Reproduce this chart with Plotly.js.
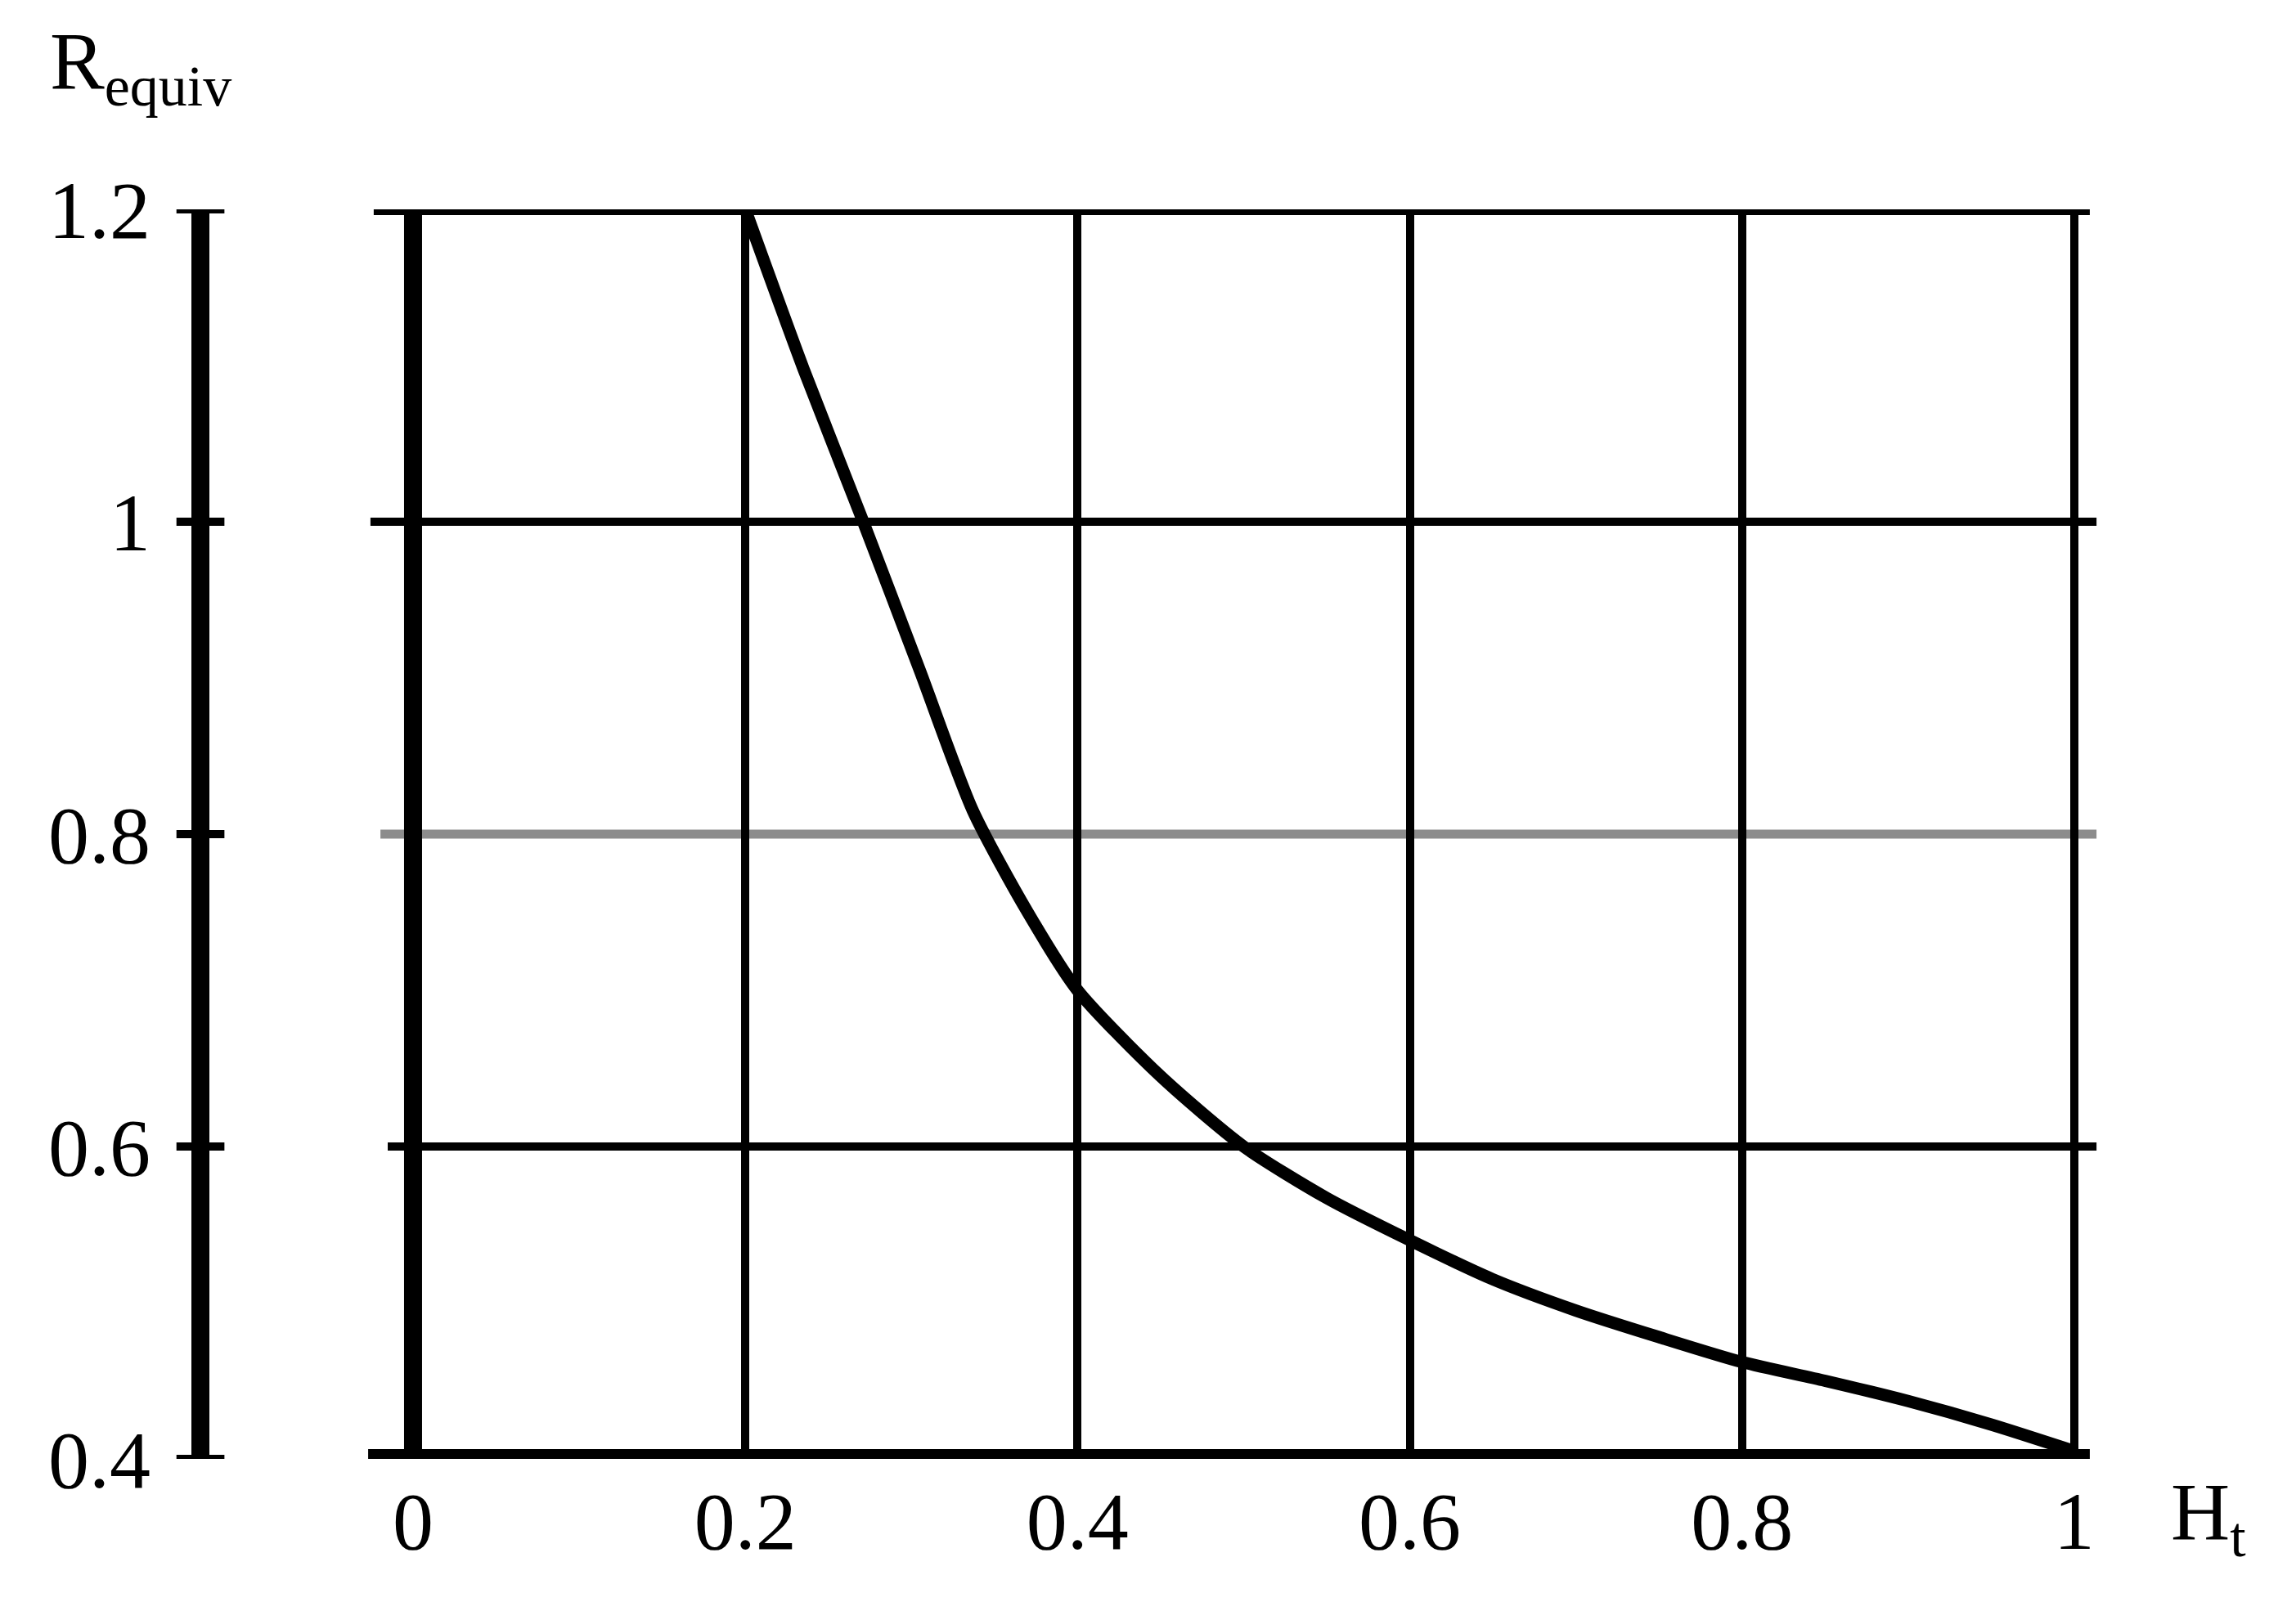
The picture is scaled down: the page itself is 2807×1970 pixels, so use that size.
<!DOCTYPE html>
<html>
<head>
<meta charset="utf-8">
<script src="https://cdn.plot.ly/plotly-3.0.1.min.js"></script>
<style>
  html, body { margin: 0; padding: 0; background: white; }
  #chart { width: 2807px; height: 1970px; }
</style>
</head>
<body>
<div id="chart"></div>
<script>
// values
const H = [0.2, 0.235, 0.271, 0.305, 0.337, 0.37, 0.4, 0.45, 0.5, 0.55, 0.6, 0.65, 0.7, 0.75, 0.8, 0.85, 0.9, 0.95, 1.0];
const R = [1.2, 1.098, 1.0, 0.905, 0.815, 0.75, 0.7, 0.645, 0.6, 0.567, 0.54, 0.515, 0.495, 0.478, 0.462, 0.45, 0.437, 0.422, 0.405];

const yTicks = [0.4, 0.6, 0.8, 1.0, 1.2];

const gridY = [1.2, 1.0, 0.8, 0.6, 0.4];
const gridColors = ['black', 'black', '#8c8c8c', 'black', 'black'];
const gridWidths = [14, 10, 11, 10, 24];
const gridStart = [0.1095, 0.1078, 0.113, 0.1168, 0.1066];
const gridEnd = [1.0038, 1.0073, 1.0073, 1.0073, 1.0038];

const fontFamily = '"Liberation Serif", "DejaVu Serif", serif';
const fontSize = 100;

const xDomain = [0.13, 1];
const yAxisPos = 0.0192;

const shapes = gridY.map((y, i) => ({
    type: 'line',
    xref: 'paper', yref: 'y',
    x0: gridStart[i], x1: gridEnd[i],
    y0: y, y1: y,
    line: { color: gridColors[i], width: gridWidths[i] },
    layer: 'below'
}));

// thick line at H = 0 (left edge of the x domain)
shapes.push({
    type: 'line',
    xref: 'paper', yref: 'y',
    x0: xDomain[0], x1: xDomain[0],
    y0: 0.4, y1: 1.2,
    line: { color: 'black', width: 22 },
    layer: 'below'
});

// tick marks crossing the separate left axis
yTicks.forEach(v => shapes.push({
    type: 'line',
    xref: 'paper', yref: 'y',
    x0: yAxisPos - 0.0125, x1: yAxisPos + 0.0125,
    y0: v, y1: v,
    line: { color: 'black', width: 10 }
}));

const data = [{
    x: H, y: R,
    type: 'scatter', mode: 'lines',
    line: { color: 'black', width: 15, shape: 'spline', smoothing: 0.7 },
    hoverinfo: 'skip'
}];

const layout = {
    width: 2807,
    height: 1970,
    margin: { l: 200, r: 261, t: 256, b: 186 },
    paper_bgcolor: 'white',
    plot_bgcolor: 'rgba(0,0,0,0)',
    showlegend: false,
    font: { family: fontFamily, color: 'black', size: fontSize },
    xaxis: {
        domain: xDomain,
        range: [0, 1.005],
        tick0: 0, dtick: 0.2,
        showgrid: true, gridcolor: 'black', gridwidth: 10,
        zeroline: false, showline: false,
        ticks: '',
        ticklabelstandoff: 9,
        tickfont: { family: fontFamily, size: fontSize, color: 'black' }
    },
    yaxis: {
        range: [0.4, 1.2],
        anchor: 'free', position: yAxisPos, side: 'left',
        tickvals: yTicks,
        showgrid: false, zeroline: false,
        showline: true, linecolor: 'black', linewidth: 22,
        ticks: '',
        ticklabelstandoff: 30,
        tickfont: { family: fontFamily, size: fontSize, color: 'black' }
    },
    shapes: shapes,
    annotations: [
        {
            xref: 'paper', yref: 'paper',
            x: -0.0600, y: 1.114,
            xanchor: 'left', yanchor: 'middle',
            text: 'R<sub>equiv</sub>',
            showarrow: false,
            font: { family: fontFamily, size: fontSize, color: 'black' }
        },
        {
            xref: 'paper', yref: 'paper',
            x: 1.0450, y: -0.047,
            xanchor: 'left', yanchor: 'middle',
            text: 'H<sub>t</sub>',
            showarrow: false,
            font: { family: fontFamily, size: fontSize, color: 'black' }
        }
    ]
};

Plotly.newPlot('chart', data, layout, { staticPlot: true });
</script>
</body>
</html>
